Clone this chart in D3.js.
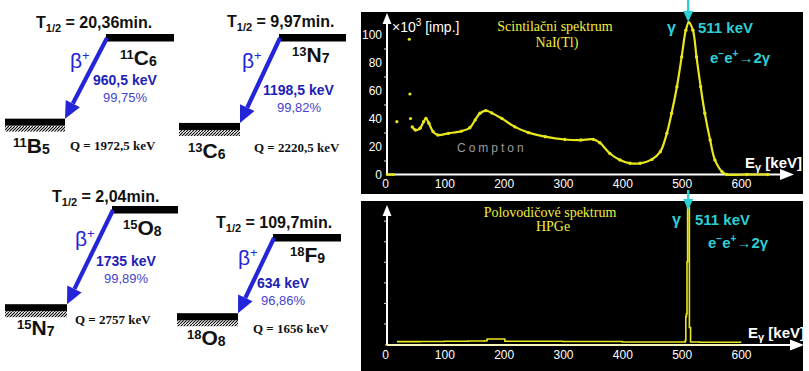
<!DOCTYPE html>
<html><head><meta charset="utf-8">
<script src="https://cdn.jsdelivr.net/npm/d3@7"></script>
<style>body{margin:0;background:#fff}svg{display:block}</style>
</head><body>
<svg id="c" width="809" height="371"></svg>
<script>
// ---------- decay scheme data ----------
const parentSymbols = ["C", "N", "O", "F"];
const parentA = [11, 13, 15, 18];
const parentZ = [6, 7, 8, 9];
const daughterSymbols = ["B", "C", "N", "O"];
const daughterA = [11, 13, 15, 18];
const daughterZ = [5, 6, 7, 8];
const halfLives = ["20,36", "9,97", "2,04", "109,7"];
const betaEnergies = ["960,5", "1198,5", "1735", "634"];
const branchings = ["99,75", "99,82", "99,89", "96,86"];
const qValues = [1972.5, 2220.5, 2757, 1656];
const qLabels = ["1972,5", "2220,5", "2757", "1656"];

// ---------- spectra data ----------
const energyTicks = [0, 100, 200, 300, 400, 500, 600];
const countTicks = [0, 20, 40, 60, 80, 100];
const countMinorTicks = [10, 30, 50, 70, 90];
const hpgeTicks = [15, 30, 45, 60, 75, 90];
// NaI(Tl): isolated points (keV, x10^3 imp.)
const naiDotEnergy = [4, 9, 14, 20, 41, 42, 43];
const naiDotCounts = [0, 0, 0, 37.7, 96.6, 57.5, 40];
// NaI(Tl): continuous spectrum
const naiEnergy = [46, 51, 59, 65, 69, 74, 81, 89, 107, 129, 143, 152, 160, 170, 180, 197, 219, 242, 270, 303, 330, 351, 362, 379, 396, 413, 430, 450, 464, 475, 483, 492, 500, 507, 512, 519, 525, 532, 539, 548, 556, 568, 576, 610, 645];
const naiCounts = [34, 31.8, 33, 37.7, 40, 36.6, 30.6, 28.2, 29.4, 31, 33.4, 39, 43.7, 45.6, 44, 40, 34, 29.9, 27, 25, 24.6, 25.1, 22.7, 15, 10.4, 8, 8, 10.8, 16.3, 29.4, 43.7, 62.7, 84, 103, 108.5, 103, 84, 62.7, 43.7, 24.6, 10.4, 2, 0, 0, 0];
// HPGe spectrum (relative counts)
const hpgeEnergy = [20, 60, 100, 140, 168, 172, 198, 202, 260, 300, 350, 400, 460, 504, 506, 507, 508, 509, 510, 512, 513, 515, 530, 600];
const hpgeCounts = [1.7, 1.8, 2.0, 2.2, 2.4, 3.6, 3.6, 2.0, 2.0, 1.8, 1.8, 1.5, 1.5, 1.5, 2.5, 20, 22, 60, 100, 100, 12, 1.5, 1.3, 1.2];

const svg = d3.select("#c");
const SANS = "'Liberation Sans', Arial, sans-serif";
const SERIF = "'Liberation Serif', 'Times New Roman', serif";
const defs = svg.append("defs");
const pat = defs.append("pattern").attr("id", "hatch").attr("width", 3).attr("height", 6)
  .attr("patternUnits", "userSpaceOnUse");
pat.append("path").attr("d", "M0,6 L6,0 M-3,6 L3,0").attr("stroke", "#000").attr("stroke-width", 1.1);

// ---------- decay schemes ----------
const layout = [
  {tx: 36, ty: 28, px: 106, py: 34, pw: 68, dx: 5, dw: 60, pnx: 120, pny: 65, dnx: 13, dny: 153, bx: 70, by: 68, ex: 93, ey: 85, cx: 103, cy: 102, qx: 70, qy: 150},
  {tx: 227, ty: 27, px: 279, py: 34, pw: 67, dx: 179, dw: 61, pnx: 292, pny: 62, dnx: 188, dny: 158, bx: 242, by: 68, ex: 263, ey: 95, cx: 277, cy: 112, qx: 254, qy: 152},
  {tx: 52, ty: 202, px: 112, py: 206, pw: 66, dx: 5, dw: 62, pnx: 123, pny: 235, dnx: 17, dny: 335, bx: 75, by: 246, ex: 96, ey: 266, cx: 104, cy: 283, qx: 75, qy: 324},
  {tx: 216, ty: 228, px: 273, py: 234, pw: 68, dx: 177, dw: 61, pnx: 290, pny: 262, dnx: 187, dny: 345, bx: 238, by: 265, ex: 257, ey: 288, cx: 261, cy: 305, qx: 253, qy: 333}
];
const drop = d3.scaleLinear().domain([1656, 2757]).range([79.2, 98.2]);
const BLUE = "#2424d8";

function nuclide(g, x, y, A, sym, Z) {
  const t = g.append("text").attr("x", x).attr("y", y).attr("font-family", SANS)
    .attr("font-weight", "bold").attr("fill", "#111");
  t.append("tspan").attr("font-size", 13).attr("dy", -6).text(A);
  t.append("tspan").attr("font-size", 21).attr("dy", 6).text(sym);
  t.append("tspan").attr("font-size", 14).attr("dy", 1).text(Z);
}

layout.forEach((L, i) => {
  const g = svg.append("g");
  const dTop = L.py + drop(qValues[i]);
  // half-life
  const T = g.append("text").attr("x", L.tx).attr("y", L.ty).attr("font-family", SANS)
    .attr("font-weight", "bold").attr("font-size", 16).attr("fill", "#111");
  T.append("tspan").text("T");
  T.append("tspan").attr("font-size", 11).attr("dy", 4).text("1/2");
  T.append("tspan").attr("dy", -4).text(" = " + halfLives[i] + "min.");
  // levels
  g.append("rect").attr("x", L.px).attr("y", L.py).attr("width", L.pw).attr("height", 7.5).attr("fill", "#000");
  g.append("rect").attr("x", L.dx).attr("y", dTop).attr("width", L.dw).attr("height", 7).attr("fill", "#000");
  g.append("rect").attr("x", L.dx).attr("y", dTop + 7).attr("width", L.dw).attr("height", 6).attr("fill", "url(#hatch)");
  // arrow
  const x0 = L.px + 1, y0 = L.py + 4, x1 = L.dx + L.dw, y1 = dTop;
  const ang = Math.atan2(y1 - y0, x1 - x0);
  const hl = 17, hw = 8;
  const bxp = x1 - hl * Math.cos(ang), byp = y1 - hl * Math.sin(ang);
  g.append("line").attr("x1", x0).attr("y1", y0).attr("x2", bxp).attr("y2", byp)
    .attr("stroke", BLUE).attr("stroke-width", 4.2);
  const nx = -Math.sin(ang), ny = Math.cos(ang);
  g.append("path").attr("d", `M${x1},${y1} L${bxp + nx * hw},${byp + ny * hw} L${bxp - nx * hw},${byp - ny * hw} Z`)
    .attr("fill", BLUE);
  // beta label
  const b = g.append("text").attr("x", L.bx).attr("y", L.by).attr("font-family", SANS)
    .attr("font-size", 21).attr("fill", BLUE);
  b.append("tspan").text("β");
  b.append("tspan").attr("font-size", 13).attr("dy", -8).text("+");
  g.append("text").attr("x", L.ex).attr("y", L.ey).attr("font-family", SANS).attr("font-weight", "bold")
    .attr("font-size", 14).attr("fill", "#2121b8").text(betaEnergies[i] + " keV");
  g.append("text").attr("x", L.cx).attr("y", L.cy).attr("font-family", SANS)
    .attr("font-size", 13).attr("fill", "#4444cc").text(branchings[i] + "%");
  g.append("text").attr("x", L.qx).attr("y", L.qy).attr("font-family", SERIF).attr("font-weight", "bold")
    .attr("font-size", 13).attr("fill", "#111").text("Q = " + qLabels[i] + " keV");
  nuclide(g, L.pnx, L.pny, parentA[i], parentSymbols[i], parentZ[i]);
  nuclide(g, L.dnx, L.dny, daughterA[i], daughterSymbols[i], daughterZ[i]);
});

// ---------- spectra ----------
const YEL = "#e8e61c", CYAN = "#2ccfd6";
const xE = d3.scaleLinear().domain([0, 600]).range([385, 741]);
const yTop = d3.scaleLinear().domain([0, 100]).range([174.5, 34.5]);
const yBot = d3.scaleLinear().domain([0, 100]).range([344, 207]);

svg.append("rect").attr("x", 361).attr("y", 12).attr("width", 442).attr("height", 182).attr("fill", "#000");
svg.append("rect").attr("x", 361).attr("y", 201).attr("width", 442).attr("height", 170).attr("fill", "#000");

function axes(yScale, y0, yTopArrow, xArrowEnd, withLabels, ticksY) {
  const ax = 387;
  svg.append("line").attr("x1", ax).attr("x2", ax).attr("y1", yTopArrow + 6).attr("y2", y0)
    .attr("stroke", "#fff").attr("stroke-width", 2);
  svg.append("path").attr("d", `M${ax},${yTopArrow} L${ax - 4.5},${yTopArrow + 11} L${ax + 4.5},${yTopArrow + 11} Z`).attr("fill", "#fff");
  svg.append("line").attr("x1", ax).attr("x2", xArrowEnd - 10).attr("y1", y0).attr("y2", y0)
    .attr("stroke", "#fff").attr("stroke-width", 2);
  svg.append("path").attr("d", `M${xArrowEnd},${y0} L${xArrowEnd - 14},${y0 - 5.5} L${xArrowEnd - 14},${y0 + 5.5} Z`).attr("fill", "#fff");
  const xa = svg.append("g").attr("transform", `translate(0,${y0})`)
    .call(d3.axisBottom(xE).tickValues(energyTicks).tickSize(0).tickPadding(5));
  xa.select(".domain").remove();
  xa.selectAll("text").attr("fill", "#fff").attr("font-family", SANS).attr("font-size", 12);
  if (withLabels) {
    const ya = svg.append("g").attr("transform", `translate(${ax},0)`)
      .call(d3.axisLeft(yScale).tickValues(countTicks).tickSize(0).tickPadding(5));
    ya.select(".domain").remove();
    ya.selectAll("text").attr("fill", "#fff").attr("font-family", SANS).attr("font-size", 12);
  }
  const ym = svg.append("g").attr("transform", `translate(${ax},0)`)
    .call(d3.axisLeft(yScale).tickValues(ticksY).tickSize(3).tickFormat(""));
  ym.select(".domain").remove();
  ym.selectAll("line").attr("stroke", "#ddd");
}
axes(yTop, 174.5, 13, 794, true, countMinorTicks);
axes(yBot, 345, 205, 804, false, hpgeTicks);

// NaI curve
const naiPts = naiEnergy.map((e, i) => [e, naiCounts[i]]);
const lineTop = d3.line().x(d => xE(d[0])).y(d => yTop(d[1])).curve(d3.curveCatmullRom.alpha(0.5));
svg.append("path").datum(naiPts).attr("d", lineTop).attr("fill", "none")
  .attr("stroke", YEL).attr("stroke-width", 2.2);
svg.selectAll(".nd").data(naiPts).enter().append("circle")
  .attr("cx", d => xE(d[0])).attr("cy", d => yTop(d[1])).attr("r", 1.7).attr("fill", YEL);
svg.selectAll(".ni").data(naiDotEnergy.map((e, i) => [e, naiDotCounts[i]])).enter().append("circle")
  .attr("cx", d => xE(d[0])).attr("cy", d => yTop(d[1])).attr("r", 1.6).attr("fill", YEL);

// HPGe curve
const hpPts = hpgeEnergy.map((e, i) => [e, hpgeCounts[i]]);
const lineBot = d3.line().x(d => xE(d[0])).y(d => yBot(d[1])).curve(d3.curveStepAfter);
svg.append("line").attr("x1", xE(0)).attr("x2", xE(600)).attr("y1", 345).attr("y2", 345)
  .attr("stroke", "#f4f070").attr("stroke-width", 1.2);
svg.append("path").datum(hpPts).attr("d", lineBot).attr("fill", "none")
  .attr("stroke", YEL).attr("stroke-width", 1.6);

// titles
function title(x, y, t) {
  svg.append("text").attr("x", x).attr("y", y).attr("text-anchor", "middle").attr("font-family", SERIF)
    .attr("font-size", 14).attr("fill", "#f0ee3c").text(t);
}
title(555, 31, "Scintilačni spektrum");
title(557, 47, "NaI(Tl)");
title(550, 217, "Polovodičové spektrum");
title(553, 231, "HPGe");

const ylab = svg.append("text").attr("x", 392).attr("y", 32).attr("font-family", SANS)
  .attr("font-size", 14).attr("fill", "#fff");
ylab.append("tspan").text("×10");
ylab.append("tspan").attr("font-size", 10).attr("dy", -6).text("3");
ylab.append("tspan").attr("dy", 6).text(" [imp.]");

svg.append("text").attr("x", 457).attr("y", 152).attr("font-family", SANS).attr("font-size", 12)
  .attr("letter-spacing", 3).attr("fill", "#9c9c9c").text("Compton");

function eLabel(x, y) {
  const t = svg.append("text").attr("x", x).attr("y", y).attr("font-family", SANS)
    .attr("font-weight", "bold").attr("font-size", 15).attr("fill", "#fff");
  t.append("tspan").text("E");
  t.append("tspan").attr("font-size", 11).attr("dy", 3).text("γ");
  t.append("tspan").attr("dy", -3).text(" [keV]");
}
eLabel(745, 168);
eLabel(748, 338);

function gammaLabels(gx, y1, y2, kx, ex) {
  svg.append("text").attr("x", gx).attr("y", y1).attr("font-family", SANS).attr("font-weight", "bold")
    .attr("font-size", 16).attr("fill", CYAN).text("γ");
  svg.append("text").attr("x", kx).attr("y", y1).attr("font-family", SANS).attr("font-weight", "bold")
    .attr("font-size", 15).attr("fill", CYAN).text("511 keV");
  const t = svg.append("text").attr("x", ex).attr("y", y2).attr("font-family", SANS).attr("font-weight", "bold")
    .attr("font-size", 15).attr("fill", CYAN);
  t.append("tspan").text("e");
  t.append("tspan").attr("font-size", 10).attr("dy", -6).text("−");
  t.append("tspan").attr("dy", 6).text("e");
  t.append("tspan").attr("font-size", 10).attr("dy", -6).text("+");
  t.append("tspan").attr("dy", 6).text("→2γ");
}
gammaLabels(667, 33, 63, 698, 710);
gammaLabels(672, 225, 248, 695, 708);

function cyanArrow(x, yStart, yTip) {
  svg.append("line").attr("x1", x).attr("x2", x).attr("y1", yStart).attr("y2", yTip - 8)
    .attr("stroke", CYAN).attr("stroke-width", 2.5);
  svg.append("path").attr("d", `M${x},${yTip} L${x - 5},${yTip - 11} L${x + 5},${yTip - 11} Z`).attr("fill", CYAN);
}
cyanArrow(xE(511), 0, 22);
cyanArrow(xE(511), 190, 210);
</script>
</body></html>
